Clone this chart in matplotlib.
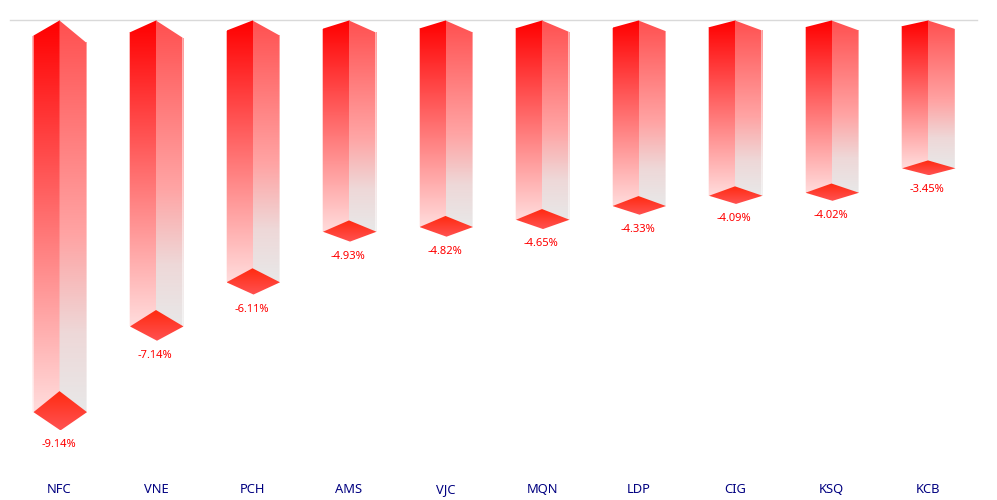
import numpy as np
import matplotlib
matplotlib.use("Agg")
import matplotlib.pyplot as plt
from matplotlib.colors import LinearSegmentedColormap
from matplotlib.patches import Polygon

plt.rcParams['font.family'] = ['Noto Sans', 'DejaVu Sans']

#values
tickers = ["NFC", "VNE", "PCH", "AMS", "VJC", "MQN", "LDP", "CIG", "KSQ", "KCB"]
changes = [-9.14, -7.14, -6.11, -4.93, -4.82, -4.65, -4.33, -4.09, -4.02, -3.45]
labels = ["-9.14%", "-7.14%", "-6.11%", "-4.93%", "-4.82%", "-4.65%", "-4.33%", "-4.09%", "-4.02%", "-3.45%"]

W, H = 997, 500
PX_X = 96.5    #pixels per category
PX_Y = 42.85   #pixels per percent
X0 = 59.5
Y0 = 20.5
AX_BOTTOM = 470

left_cmap = LinearSegmentedColormap.from_list("l", ["#ff0000", "#ffdcdc"])
right_cmap = LinearSegmentedColormap.from_list(
    "r", [(0, "#ff5050"), (0.55, "#ffa4a4"), (0.8, "#eed8d8"), (1, "#e8e8e8")])
tip_cmap = LinearSegmentedColormap.from_list("t", ["#ff2a10", "#ff5252"])
grad = np.linspace(0, 1, 256).reshape(-1, 1)

fig = plt.figure(figsize=(W / 100, H / 100), dpi=100)
ax = fig.add_axes([0, (H - AX_BOTTOM) / H, 1, AX_BOTTOM / H])


def face(pts, cmap, top, bottom, z=2, alpha=1):
    #gradient image clipped to a polygon
    xs = [p[0] for p in pts]
    im = ax.imshow(grad, cmap=cmap, aspect="auto", vmin=0, vmax=1, zorder=z, alpha=alpha,
                   extent=[min(xs), max(xs), bottom, top], interpolation="bilinear")
    poly = Polygon(pts, closed=True, transform=ax.transData, fc="none", ec="none")
    ax.add_patch(poly)
    im.set_clip_path(poly)


half_l = 26.0 / PX_X
half_r = 27.5 / PX_X
seam = 0.6 / PX_X
edge = 1.0 / PX_X

for i, v in enumerate(changes):
    a = abs(v)
    #the depth of the box grows with the value
    top_l = -1.65 * a / PX_Y
    top_r = -2.4 * a / PX_Y
    up = 2.3 * a / PX_Y
    down = 2.0 * a / PX_Y

    face([(i - half_l, top_l), (i, 0), (i + seam, 0), (i + seam, v), (i - half_l, v)], left_cmap, 0, v, z=2)
    face([(i, 0), (i + half_r - edge, top_r), (i + half_r - edge, v), (i, v)], right_cmap, 0, v, z=2.1)
    #soft outer edges
    face([(i - half_l - edge, top_l), (i - half_l, top_l), (i - half_l, v), (i - half_l - edge, v)], left_cmap, 0, v, z=2, alpha=0.3)
    face([(i + half_r - edge, top_r), (i + half_r, top_r), (i + half_r, v), (i + half_r - edge, v)], right_cmap, 0, v, z=2, alpha=0.6)
    face([(i, v + up), (i + half_r, v), (i + 1 / PX_X, v - down), (i - half_l, v)], tip_cmap, v + up, v - down, z=2.2)

    ax.text(i - 1 / PX_X, v - down - 14.5 / PX_Y, labels[i], color="#ff0000", fontsize=8,
            ha="center", va="center", zorder=3)

ax.axhline(0, xmin=10 / W, xmax=977 / W, color="#d9d9d9", lw=1, zorder=1)

ax.set_xlim(-X0 / PX_X, (W - X0) / PX_X)
ax.set_ylim(-(AX_BOTTOM - Y0) / PX_Y, Y0 / PX_Y)
#tick_params resets the label alignment, so it goes first
ax.tick_params(axis="x", length=0, pad=16.5)
ax.set_xticks(range(len(tickers)))
ax.set_xticklabels(tickers, color="#000080", fontsize=9.3, va="baseline")
ax.set_yticks([])
for s in ax.spines.values():
    s.set_visible(False)

plt.savefig("out.png", dpi=100)
